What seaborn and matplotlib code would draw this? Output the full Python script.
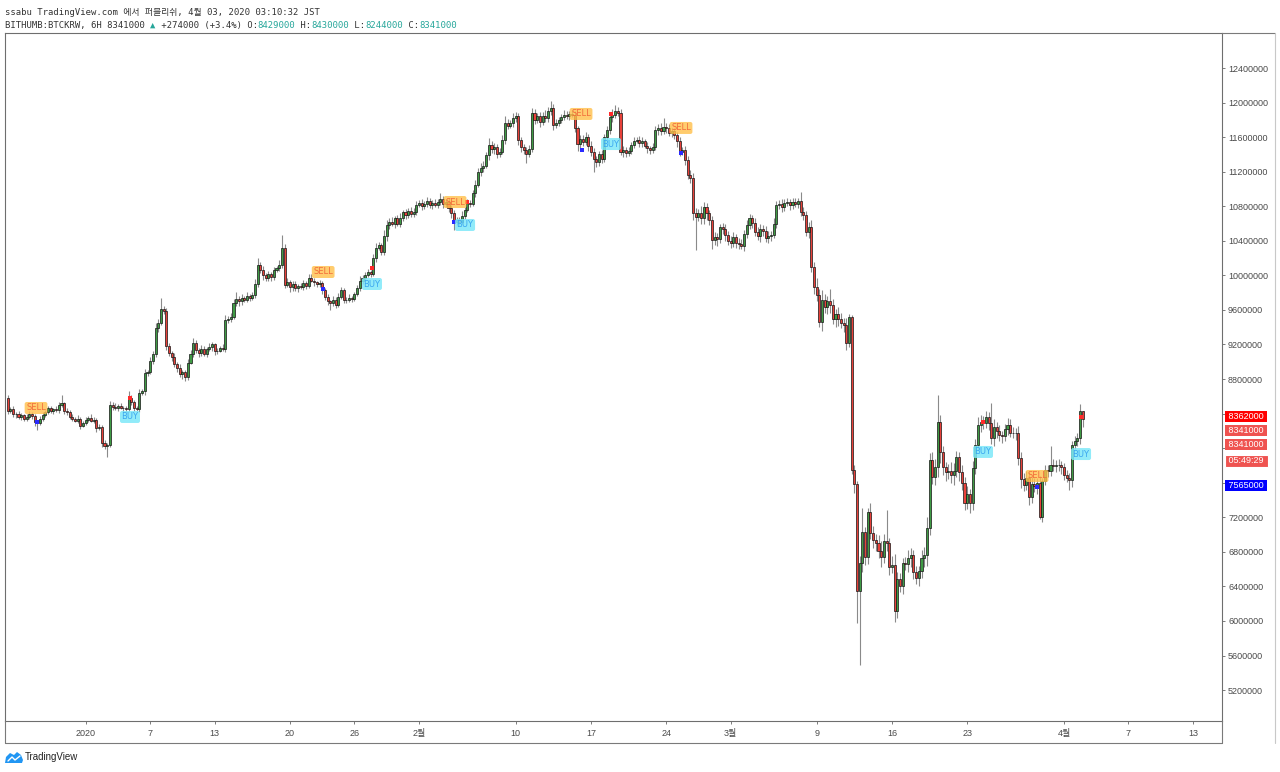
import numpy as np
import pandas as pd
import matplotlib.pyplot as plt
import seaborn as sns
from matplotlib.lines import Line2D
from matplotlib.patches import Polygon
from matplotlib.ticker import FixedLocator, FuncFormatter

# --- STYLE ---
sns.set_theme(style="white")
plt.rcParams['font.family'] = ['Liberation Sans', 'Noto Sans CJK KR']
plt.rcParams['axes.unicode_minus'] = False

# --- DATA (BITHUMB BTC/KRW, 6H candles, prices in 10,000 KRW) ---
UNIT = 10000
first_open = 858
start_time = '2019-12-24 18:00'

close_dec = [843, 845, 839, 840, 836, 838, 834, 836, 840, 837, 830, 829, 834, 838, 842, 846, 843, 845, 844, 850,
             852, 843, 842, 836, 834, 832, 834, 826, 829]
close_jan = [833, 835, 832, 833, 823, 825, 806, 803, 804, 850,
             848, 846, 849, 847, 846, 845, 858, 854, 846, 845,
             864, 866, 887, 888, 901, 909, 939, 945, 961, 959,
             918, 910, 905, 897, 893, 886, 888, 882, 899, 909,
             922, 914, 910, 915, 909, 915, 917, 920, 912, 913,
             916, 915, 948, 950, 952, 968, 973, 970, 974, 972,
             976, 974, 977, 990, 1012, 1006, 1000, 997, 1001, 998,
             1006, 1008, 1012, 1032, 989, 992, 986, 990, 985, 988,
             986, 991, 988, 997, 994, 992, 990, 991, 983, 975,
             970, 968, 972, 966, 975, 983, 972, 971, 974, 973,
             978, 985, 994, 997, 1000, 1004, 1002, 1020, 1032, 1035,
             1027, 1045, 1058, 1062, 1060, 1066, 1060, 1066, 1073, 1070,
             1075, 1071, 1073, 1082]
close_feb = [1084, 1080, 1083, 1086, 1081, 1084, 1082, 1085, 1088, 1083,
             1085, 1078, 1072, 1062, 1064, 1062, 1069, 1076, 1084, 1083,
             1095, 1105, 1120, 1124, 1127, 1139, 1151, 1146, 1149, 1141,
             1143, 1157, 1176, 1173, 1176, 1182, 1184, 1157, 1148, 1145,
             1141, 1146, 1188, 1180, 1184, 1177, 1185, 1182, 1190, 1194,
             1174, 1176, 1180, 1183, 1186, 1185, 1187, 1186, 1170, 1152,
             1158, 1154, 1160, 1150, 1143, 1135, 1131, 1140, 1135, 1160,
             1168, 1183, 1186, 1190, 1188, 1143, 1145, 1142, 1144, 1151,
             1156, 1157, 1153, 1155, 1150, 1147, 1145, 1149, 1168, 1171,
             1167, 1172, 1170, 1165, 1167, 1162, 1155, 1143, 1145, 1134,
             1116, 1113, 1072, 1068, 1072, 1066, 1079, 1072, 1064, 1041,
             1044, 1042, 1056, 1054, 1047, 1040]
close_mar = [1037, 1044, 1038, 1036, 1034, 1048, 1058, 1066, 1061, 1050,
             1045, 1054, 1051, 1043, 1046, 1047, 1060, 1081, 1083, 1079,
             1084, 1085, 1082, 1085, 1083, 1086, 1073, 1070, 1050, 1056,
             1010, 987, 977, 946, 971, 963, 970, 966, 950, 955,
             949, 945, 942, 922, 952, 775, 758, 635, 667, 703,
             674, 726, 702, 694, 690, 681, 674, 693, 690, 663,
             665, 612, 648, 641, 667, 666, 673, 676, 657, 650,
             658, 673, 676, 708, 786, 767, 778, 830, 796, 778,
             772, 774, 769, 774, 790, 772, 760, 737, 747, 737,
             777, 804, 827, 830, 829, 836, 829, 812, 824, 820,
             815, 814, 822, 827, 818, 818, 817, 789, 764, 757,
             766, 744, 758, 756, 760, 720, 762, 775, 774, 781,
             779, 781, 780, 778]
close_apr = [769, 766, 763, 804, 808, 812, 842.9, 834.1]

wick_up_dec = [4, 3, 4, 2, 3, 3, 2, 4, 3, 2, 3, 2, 3, 4, 2, 3, 3, 2, 4, 3, 10, 2, 3, 2, 3, 2, 4, 2, 3]
wick_dn_dec = [3, 2, 3, 4, 2, 3, 2, 3, 2, 3, 4, 8, 2, 3, 2, 3, 2, 3, 2, 3, 2, 3, 4, 2, 3, 2, 3, 4, 2]
wick_up_jan = [3, 2, 4, 3, 2, 3, 2, 3, 2, 5, 3, 4, 2, 3, 2, 3, 8, 3, 2, 3,
               4, 3, 5, 2, 4, 3, 6, 5, 13, 4, 3, 4, 2, 5, 3, 4, 2, 3, 4, 5,
               6, 3, 2, 4, 3, 2, 5, 3, 2, 3, 2, 4, 6, 3, 4, 5, 8, 3, 4, 2,
               5, 3, 4, 6, 8, 4, 5, 3, 4, 3, 4, 3, 6, 15, 4, 5, 3, 4, 3, 2,
               3, 4, 2, 5, 4, 3, 2, 4, 3, 2, 3, 2, 4, 3, 5, 4, 2, 3, 4, 2,
               3, 4, 5, 3, 4, 3, 2, 5, 6, 4, 3, 7, 6, 4, 5, 3, 4, 6, 3, 4,
               3, 4, 5, 4]
wick_dn_jan = [2, 3, 2, 3, 4, 2, 5, 4, 13, 3, 4, 2, 3, 2, 4, 3, 3, 4, 3, 2,
               3, 2, 4, 3, 2, 4, 3, 5, 3, 4, 4, 3, 4, 3, 5, 4, 6, 4, 3, 2,
               3, 4, 5, 3, 2, 4, 3, 5, 4, 3, 2, 3, 4, 3, 4, 2, 3, 5, 4, 3,
               3, 4, 2, 3, 4, 3, 5, 4, 3, 4, 3, 2, 3, 4, 4, 3, 5, 4, 3, 4,
               2, 3, 4, 3, 2, 4, 3, 3, 4, 3, 4, 8, 3, 4, 3, 2, 4, 3, 2, 4,
               3, 2, 3, 4, 3, 2, 4, 3, 5, 3, 4, 3, 5, 4, 3, 5, 3, 4, 3, 5,
               4, 3, 4, 3]
wick_up_feb = [3, 4, 3, 5, 4, 3, 4, 3, 7, 4, 3, 4, 3, 4, 3, 4, 5, 3, 4, 3,
               4, 5, 4, 6, 5, 4, 8, 5, 4, 3, 4, 5, 8, 5, 4, 6, 5, 4, 3, 4,
               3, 5, 6, 5, 4, 5, 4, 6, 5, 8, 4, 5, 3, 4, 5, 4, 3, 4, 4, 3,
               4, 5, 6, 4, 5, 4, 3, 4, 5, 4, 5, 4, 6, 7, 5, 4, 5, 3, 4, 3,
               4, 3, 4, 5, 3, 4, 3, 4, 5, 4, 5, 10, 4, 5, 4, 3, 4, 5, 4, 5,
               4, 6, 5, 6, 5, 8, 6, 5, 4, 5, 6, 5, 4, 5, 6, 4]
wick_dn_feb = [3, 4, 3, 4, 3, 4, 3, 4, 3, 5, 4, 5, 6, 9, 4, 5, 3, 4, 3, 4,
               3, 4, 3, 5, 4, 3, 5, 4, 6, 5, 4, 3, 5, 4, 3, 4, 4, 6, 5, 4,
               11, 4, 3, 5, 4, 5, 3, 4, 5, 4, 6, 4, 3, 4, 3, 4, 5, 3, 4, 8,
               5, 4, 3, 6, 5, 15, 6, 4, 5, 4, 3, 4, 5, 4, 3, 4, 6, 5, 4, 3,
               4, 3, 5, 4, 3, 5, 4, 3, 4, 5, 4, 3, 5, 4, 5, 4, 6, 5, 4, 6,
               5, 6, 8, 39, 5, 6, 7, 8, 6, 11, 6, 8, 5, 6, 7, 5]
wick_up_mar = [5, 6, 4, 5, 6, 4, 6, 5, 4, 5, 6, 5, 4, 6, 5, 4, 6, 5, 4, 5,
               4, 5, 3, 4, 5, 4, 10, 6, 5, 6, 8, 6, 10, 7, 12, 8, 6, 14, 7, 6,
               8, 7, 6, 9, 3, 2, 6, 4, 8, 28, 6, 5, 10, 8, 7, 9, 12, 8, 35, 6,
               10, 12, 9, 8, 6, 7, 9, 8, 6, 7, 6, 9, 10, 12, 8, 10, 9, 32, 8, 7,
               6, 8, 10, 9, 7, 6, 8, 7, 9, 6, 8, 7, 9, 8, 7, 7, 6, 23, 10, 6,
               7, 5, 6, 8, 7, 6, 5, 9, 6, 7, 8, 6, 9, 7, 5, 8, 3, 6, 5, 21,
               6, 5, 7, 5]
wick_dn_mar = [5, 4, 6, 5, 4, 6, 5, 4, 6, 5, 4, 6, 5, 4, 5, 6, 4, 5, 4, 6,
               5, 4, 6, 5, 4, 5, 4, 6, 5, 7, 6, 8, 7, 6, 10, 7, 8, 9, 6, 10,
               8, 6, 7, 8, 5, 5, 10, 37, 86, 10, 9, 8, 7, 10, 9, 8, 12, 7, 9, 10,
               7, 13, 9, 8, 10, 7, 9, 11, 8, 7, 9, 8, 10, 12, 9, 8, 10, 11, 13, 9,
               10, 8, 9, 12, 7, 10, 9, 8, 7, 12, 8, 7, 6, 8, 7, 6, 8, 7, 10, 8,
               7, 8, 6, 7, 5, 6, 8, 9, 10, 7, 6, 10, 8, 7, 9, 2, 6, 5, 7, 6,
               5, 7, 6, 8]
wick_up_apr = [5, 6, 5, 4, 6, 5, 8, 0.1]
wick_dn_apr = [6, 5, 11, 8, 5, 6, 7, 9.7]

# indicator signals (x in days from 2020-01-01, price in 10,000 KRW)
sell_day = [-4.62, 22.09, 34.36, 46.08, 55.38, 88.50]
sell_price = [846.5, 1003.9, 1084.9, 1186.8, 1170.6, 767.8]
buy_day = [4.12, 26.63, 35.29, 48.87, 83.47, 92.59]
buy_price = [836.1, 990.0, 1058.3, 1152.0, 795.6, 793.2]
dot_day = [-4.53, 4.13, 22.07, 26.63, 34.26, 35.47, 46.17, 48.87, 55.38, 83.47, 88.49, 92.59]
dot_price = [830.3, 858.1, 984.2, 1008.5, 1061.8, 1084.9, 1145.1, 1186.8, 1141.6, 830.3, 755.1, 836.1]
dot_side = ['short', 'long'] * 6

# price scale tags on the right axis (stacked tags are pushed down by a few pixels)
tag_values = [8362000, 8341000, 8341000, 7565000]
tag_colors = ['#ff0000', '#ef5350', '#ef5350', '#0000ff']
tag_push_px = [0, 12, 26, 0]
timer_text = '05:49:29'
timer_push_px = 42

tick_dates = ['2020-01-01', '2020-01-07', '2020-01-13', '2020-01-20', '2020-01-26', '2020-02-01',
              '2020-02-10', '2020-02-17', '2020-02-24', '2020-03-01', '2020-03-09', '2020-03-16',
              '2020-03-23', '2020-04-01', '2020-04-07', '2020-04-13']
tick_labels = ['2020', '7', '13', '20', '26', '2월', '10', '17', '24', '3월', '9', '16', '23', '4월', '7', '13']
price_ticks = list(range(5200000, 12400001, 400000))

header_1 = 'ssabu TradingView.com 에서 퍼블리쉬, 4월 03, 2020 03:10:32 JST'
header_2 = [('BITHUMB:BTCKRW, 6H 8341000 ', 'dark'), ('▲', 'teal'), (' +274000 (+3.4%) O:', 'dark'),
            ('8429000', 'teal'), (' H:', 'dark'), ('8430000', 'teal'), (' L:', 'dark'),
            ('8244000', 'teal'), (' C:', 'dark'), ('8341000', 'teal')]

# --- BUILD FRAME ---
closes = np.array(close_dec + close_jan + close_feb + close_mar + close_apr, float)
w_up = np.array(wick_up_dec + wick_up_jan + wick_up_feb + wick_up_mar + wick_up_apr, float)
w_dn = np.array(wick_dn_dec + wick_dn_jan + wick_dn_feb + wick_dn_mar + wick_dn_apr, float)
opens = np.concatenate([[first_open], closes[:-1]])
times = pd.date_range(start_time, periods=len(closes), freq='6h')
day0 = pd.Timestamp('2020-01-01')

df = pd.DataFrame({
    'day': (times - day0) / pd.Timedelta('1D'),
    'open': opens * UNIT,
    'close': closes * UNIT,
    'high': (np.maximum(opens, closes) + w_up) * UNIT,
    'low': (np.minimum(opens, closes) - w_dn) * UNIT,
})
df['up'] = df['close'] >= df['open']

sig = pd.DataFrame({'day': dot_day, 'price': np.array(dot_price) * UNIT, 'side': dot_side})

# pixel calibration of the original screenshot
W, H = 1280, 772
DAY0_PX, PX_PER_DAY = 85.7, 10.75
Y_REF_PX, Y_REF_PRICE, PRICE_PER_PX = 68, 12400000, 11574
L_PX, R_PX, T_PX, B_PX = 5, 1222, 33, 721
PT_PER_PX = 72 / 100


def px_to_day(px):
    return (px - DAY0_PX) / PX_PER_DAY


def py_to_price(py):
    return Y_REF_PRICE - (py - Y_REF_PX) * PRICE_PER_PX


def price_to_py(price):
    return Y_REF_PX + (Y_REF_PRICE - price) / PRICE_PER_PX


# tick labels hidden under the price tags
tag_py = [price_to_py(v) + p for v, p in zip(tag_values, tag_push_px)]


def price_fmt(v, _):
    if any(abs(price_to_py(v) - t) < 9 for t in tag_py):
        return ''
    return f'{int(round(v))}'


# --- PLOT ---
fig = plt.figure(figsize=(W / 100, H / 100), dpi=100)
ax = fig.add_axes([L_PX / W, 1 - B_PX / H, (R_PX - L_PX) / W, (B_PX - T_PX) / H])
ax.set_facecolor('white')

ax.vlines(df['day'], df['low'], df['high'], color='#8a8a8a', linewidth=0.8, zorder=2)
ax.bar(df['day'], df['close'] - df['open'], bottom=df['open'], width=0.19,
       color=np.where(df['up'], '#3f9b45', '#e8413a'), edgecolor='#141414', linewidth=0.5, zorder=3)

sns.scatterplot(data=sig, x='day', y='price', hue='side', palette={'long': '#ff2a2a', 'short': '#2a2aff'},
                marker='s', s=10, edgecolor='none', legend=False, ax=ax, zorder=5)

for d, p in zip(sell_day, sell_price):
    ax.text(d, p * UNIT, 'SELL', ha='center', va='center', fontsize=6, color='#f26b3a',
            family=['DejaVu Sans'], zorder=6,
            bbox=dict(boxstyle='round,pad=0.18,rounding_size=0.25', fc='#ffc04a', ec='none', alpha=0.8))
for d, p in zip(buy_day, buy_price):
    ax.text(d, p * UNIT, 'BUY', ha='center', va='center', fontsize=6, color='#3aa6f0',
            family=['DejaVu Sans'], zorder=6,
            bbox=dict(boxstyle='round,pad=0.18,rounding_size=0.25', fc='#7ee8f8', ec='none', alpha=0.85))

# axes limits and ticks
ax.set_xlim(px_to_day(L_PX), px_to_day(R_PX))
ax.set_ylim(py_to_price(B_PX), py_to_price(T_PX))
ax.set_xlabel('')
ax.set_ylabel('')

tick_days = [(pd.Timestamp(t) - day0) / pd.Timedelta('1D') for t in tick_dates]
ax.xaxis.set_major_locator(FixedLocator(tick_days))
ax.set_xticklabels(tick_labels)
ax.yaxis.tick_right()
ax.yaxis.set_major_locator(FixedLocator(price_ticks))
ax.yaxis.set_major_formatter(FuncFormatter(price_fmt))
ax.tick_params(axis='x', direction='out', length=2.5, width=0.6, color='#666666', pad=3.5,
               labelsize=6.5, labelcolor='#4a4a4a', bottom=True)
ax.tick_params(axis='y', direction='out', length=2.2, width=0.6, color='#666666', pad=2.2,
               labelsize=6.5, labelcolor='#4a4a4a', right=True, left=False)
ax.grid(False)
for s in ax.spines.values():
    s.set_color('#6e6e6e')
    s.set_linewidth(0.8)

# price tags on the right scale
for val, col, push in zip(tag_values, tag_colors, tag_push_px):
    ax.annotate(f' {val} ', xy=(1, val), xycoords=('axes fraction', 'data'),
                xytext=(2.6, -push * PT_PER_PX), textcoords='offset points', ha='left', va='center',
                fontsize=6.5, color='white', annotation_clip=False, zorder=10,
                bbox=dict(boxstyle='square,pad=0.12', fc=col, ec='none'))
ax.annotate(f' {timer_text} ', xy=(1, tag_values[2]), xycoords=('axes fraction', 'data'),
            xytext=(3.2, -timer_push_px * PT_PER_PX), textcoords='offset points', ha='left', va='center',
            fontsize=6.5, color='white', annotation_clip=False, zorder=10,
            bbox=dict(boxstyle='square,pad=0.18', fc='#ef5350', ec='white', lw=0.8))

# frame around time scale and price scale
frame = '#7a7a7a'
fig.add_artist(Line2D([L_PX / W, R_PX / W], [1 - 743 / H] * 2, color=frame, lw=0.8))
fig.add_artist(Line2D([L_PX / W] * 2, [1 - B_PX / H, 1 - 743 / H], color=frame, lw=0.8))
fig.add_artist(Line2D([R_PX / W] * 2, [1 - B_PX / H, 1 - 743 / H], color=frame, lw=0.8))
fig.add_artist(Line2D([R_PX / W, 1275 / W], [1 - T_PX / H] * 2, color=frame, lw=0.8))
fig.add_artist(Line2D([1275 / W] * 2, [1 - T_PX / H, 1 - 743 / H], color='#c8c8c8', lw=0.8))

# header
mono = ['DejaVu Sans Mono', 'DejaVu Sans', 'Noto Sans CJK KR']
cols = {'dark': '#333333', 'teal': '#26a69a'}
fig.text(5 / W, 1 - 15 / H, header_1, fontsize=6.4, color=cols['dark'], family=mono, va='baseline')
anchor = fig.text(5 / W, 1 - 28 / H, header_2[0][0], fontsize=6.4, color=cols[header_2[0][1]],
                  family=mono, va='baseline')
for txt, c in header_2[1:]:
    anchor = ax.annotate(txt, xy=(1, 0), xycoords=anchor, ha='left', va='bottom', fontsize=6.4,
                         color=cols[c], family=mono, annotation_clip=False)

# TradingView mark
logo = Polygon([(5 / W, 1 - 763 / H), (6 / W, 1 - 757 / H), (10 / W, 1 - 753 / H), (14 / W, 1 - 755 / H),
                (17 / W, 1 - 752 / H), (21 / W, 1 - 755 / H), (23 / W, 1 - 760 / H), (22 / W, 1 - 763 / H)],
               closed=True, transform=fig.transFigure, fc='#2196f3', ec='none')
fig.add_artist(logo)
fig.add_artist(Line2D([8 / W, 12 / W, 15 / W, 20 / W], [1 - 761 / H, 1 - 757 / H, 1 - 760 / H, 1 - 756 / H],
                      color='white', lw=1.0))
fig.text(25 / W, 1 - 757 / H, 'TradingView', fontsize=7, color='#222222', va='center', family=['Liberation Sans'])

fig.savefig('out.png', dpi=100, facecolor='white')
